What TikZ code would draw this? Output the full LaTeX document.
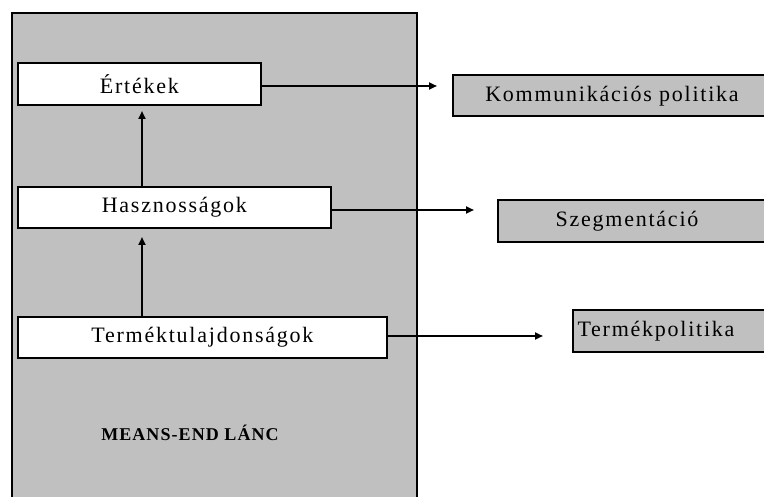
\documentclass[tikz,border=0pt]{standalone}
\usepackage{fontspec}
\setmainfont{Liberation Serif}
\newfontfamily\spaced[LetterSpace=8]{Liberation Serif}
\newfontfamily\spacedb[LetterSpace=6]{Liberation Serif}
\usetikzlibrary{arrows.meta}
\definecolor{panel}{HTML}{C0C0C0}
\begin{document}
\begin{tikzpicture}[x=1pt,y=-1pt,
  txt/.style={font=\spaced\fontsize{22}{22}\selectfont},
  whitebox/.style={draw=black,line width=1.8pt,fill=white,inner sep=0pt,txt},
  graybox/.style={draw=black,line width=1.8pt,fill=panel,inner sep=0pt},
  conn/.style={line width=2.5pt,-{Triangle[length=8pt,width=7pt]}}]
\useasboundingbox (0,0) rectangle (764,497);
\begin{scope}
\clip (0,0) rectangle (764,497);
\draw[line width=2pt,fill=panel] (11.5,13) rectangle (416.5,520);
\node[graybox,minimum width=320pt,minimum height=41pt,anchor=north west] (kom) at (452,74) {};
\node[graybox,minimum width=280pt,minimum height=42pt,anchor=north west] (szeg) at (497,199) {};
\node[graybox,minimum width=210pt,minimum height=42pt,anchor=north west] (term) at (572,309) {};
\end{scope}
\node[txt] (komt) at (612,96) {Kommunikációs politika};
\node[txt] (szegt) at (627,221) {Szegmentáció};
\node[txt] (termt) at (656,331) {Termékpolitika};
\node[whitebox,minimum width=243pt,minimum height=42pt,anchor=north west] (ert) at (17,62) {Értékek};
\node[whitebox,minimum width=313pt,minimum height=41pt,anchor=north west] (hasz) at (17,186) {Hasznosságok};
\node[whitebox,minimum width=369pt,minimum height=41pt,anchor=north west] (tul) at (17,316) {Terméktulajdonságok};
\node[font=\spacedb\bfseries\fontsize{18}{18}\selectfont] (chain) at (190,433) {MEANS-END LÁNC};
\coordinate (a1) at (437,86);
\coordinate (a2) at (474,210);
\coordinate (a3) at (543,336);
\draw[conn] (ert.east |- a1) -- (a1);
\draw[conn] (hasz.east |- a2) -- (a2);
\draw[conn] (tul.east |- a3) -- (a3);
\draw[conn] (142,186) -- (142,111);
\draw[conn] (142,316) -- (142,237);
\end{tikzpicture}
\end{document}
